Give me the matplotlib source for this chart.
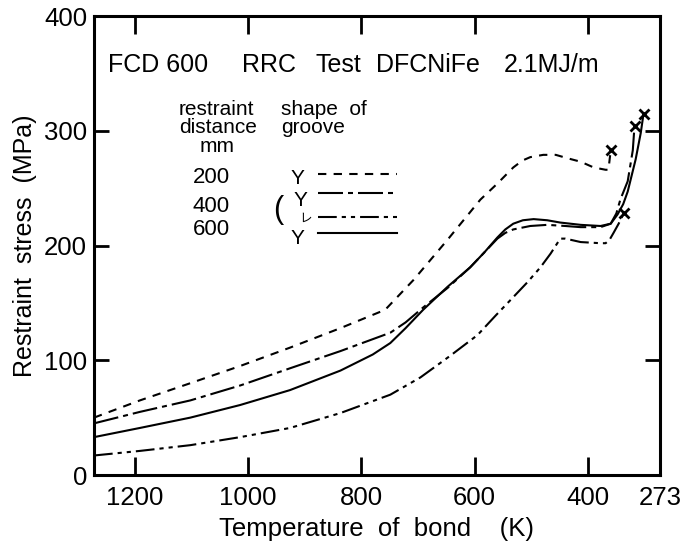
import matplotlib
matplotlib.use("Agg")
import matplotlib.pyplot as plt
from matplotlib.lines import Line2D

plt.rcParams['font.family'] = ['Liberation Sans', 'Noto Sans CJK JP', 'DejaVu Sans']

# temperature of bond (K) and restraint stress (MPa)
t_200y = [1272, 1191, 1102, 1014, 926, 837, 758, 708, 648, 590, 560, 532, 516, 502, 479,
          457, 436, 413, 390, 369, 364, 360]
s_200y = [50, 65, 80, 95, 111, 128, 144, 170, 205, 240, 254, 268, 274, 277, 279,
          279, 276, 273, 268, 266, 266, 283]

t_400y = [1272, 1191, 1102, 1014, 926, 837, 749, 722, 691, 648, 608, 583, 560, 546, 532,
          502, 472, 440, 413, 378, 360, 350, 343, 330, 321, 318]
s_400y = [45, 55, 65, 78, 93, 108, 124, 133, 146, 163, 181, 194, 206, 211, 214,
          217, 218, 217, 216, 216, 219, 228, 240, 256, 283, 304]

t_400v = [1272, 1191, 1102, 1014, 926, 837, 749, 696, 643, 595, 563, 532, 507, 484, 466,
          449, 440, 413, 378, 369, 362, 355, 346, 337]
s_400v = [17, 21, 26, 33, 41, 54, 70, 85, 104, 122, 139, 155, 168, 181, 193,
          206, 206, 203, 202, 202, 205, 211, 219, 228]

t_600y = [1272, 1191, 1102, 1014, 926, 837, 780, 749, 722, 691, 648, 608, 583, 560, 546,
          532, 515, 496, 472, 449, 413, 378, 360, 348, 338, 330, 316, 307, 302]
s_600y = [33, 41, 50, 61, 74, 91, 105, 115, 128, 144, 164, 181, 194, 207, 214,
          219, 222, 223, 222, 220, 218, 217, 219, 227, 236, 247, 275, 298, 315]

x_ticks = [1200, 1000, 800, 600, 400, 273]
y_ticks = [0, 100, 200, 300, 400]

styles = {
    '200y': (0, (4, 3.5)),
    '400y': (0, (12, 2.4, 2.4, 2.4)),
    '400v': (0, (9, 2.4, 2, 2.4, 2, 2.4)),
    '600y': '-',
}

fig = plt.figure(figsize=(6.88, 5.48), dpi=100)
ax = fig.add_axes([0.1366, 0.1332, 0.8227, 0.8376])

lw = 1.5
ax.plot(t_200y, s_200y, color='black', lw=lw, linestyle=styles['200y'])
ax.plot(t_400y, s_400y, color='black', lw=lw, linestyle=styles['400y'])
ax.plot(t_400v, s_400v, color='black', lw=lw, linestyle=styles['400v'])
ax.plot(t_600y, s_600y, color='black', lw=lw, linestyle=styles['600y'])

# fracture points
for t, s in [(t_200y, s_200y), (t_400y, s_400y), (t_400v, s_400v), (t_600y, s_600y)]:
    ax.plot(t[-1], s[-1], marker='x', color='black', ms=7, mew=2)

ax.set_xlim(1272, 273)
ax.set_ylim(0, 400)
ax.set_xticks(x_ticks)
ax.set_xticklabels([str(v) for v in x_ticks])
ax.set_yticks(y_ticks)
ax.set_yticklabels([str(v) for v in y_ticks])

for sp in ax.spines.values():
    sp.set_linewidth(2.2)
ax.tick_params(axis='x', direction='in', length=13, width=2, labelsize=18.5, pad=8,
               top=True, bottom=True)
ax.tick_params(axis='y', direction='in', length=11, width=2, labelsize=18.5, pad=5,
               left=True, right=True)

ax.set_xlabel('Temperature  of  bond    (K)', fontsize=18.5, labelpad=5)
ax.set_ylabel('Restraint  stress  (MPa)', fontsize=18, labelpad=5)

# heading inside the frame
tr = ax.transAxes
for x, txt in [(0.024, 'FCD 600'), (0.262, 'RRC'), (0.391, 'Test'), (0.498, 'DFCNiFe'), (0.724, '2.1MJ/m')]:
    ax.text(x, 0.878, txt, transform=tr, fontsize=18, va='baseline', ha='left')

# legend, drawn by hand
ax.text(0.150, 0.797, 'restraint', transform=tr, fontsize=15, va='center')
ax.text(0.150, 0.757, 'distance', transform=tr, fontsize=15, va='center')
ax.text(0.187, 0.715, 'mm', transform=tr, fontsize=15, va='center')
ax.text(0.330, 0.797, 'shape  of', transform=tr, fontsize=15, va='center')
ax.text(0.330, 0.757, 'groove', transform=tr, fontsize=15, va='center')

dist_labels = ['200', '400', '600']
dist_y = [0.649, 0.586, 0.534]
for lab, y in zip(dist_labels, dist_y):
    ax.text(0.174, y, lab, transform=tr, fontsize=16, va='center')

ax.text(0.359, 0.647, 'Y', transform=tr, fontsize=15, va='center', ha='center')
ax.text(0.364, 0.597, 'Y', transform=tr, fontsize=15, va='center', ha='center')
ax.text(0.374, 0.558, 'レ', transform=tr, fontsize=9, va='center', ha='center')
ax.text(0.325, 0.577, '(', transform=tr, fontsize=22, va='center', ha='center')
ax.text(0.359, 0.515, 'Y', transform=tr, fontsize=15, va='center', ha='center')

leg_y = [0.656, 0.614, 0.562, 0.527]
for key, y in zip(['200y', '400y', '400v', '600y'], leg_y):
    ax.add_line(Line2D([0.396, 0.535], [y, y], transform=tr, color='black', lw=lw,
                       linestyle=styles[key]))

fig.savefig('out.png', dpi=100)
